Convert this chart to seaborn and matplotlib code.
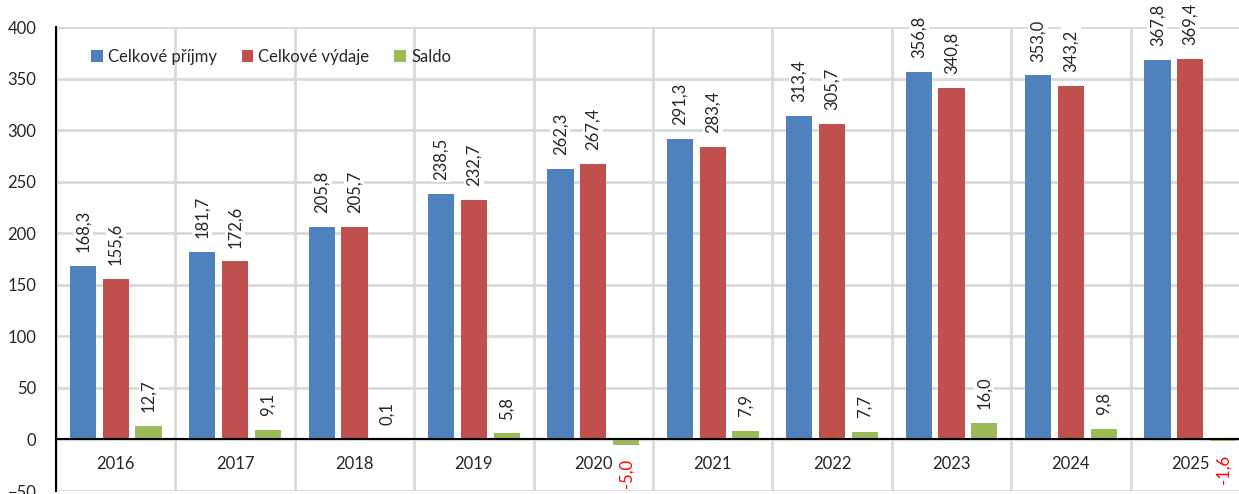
import pandas as pd
import matplotlib
matplotlib.use("Agg")
import matplotlib.pyplot as plt
import seaborn as sns

# ----- Dati -----
roky = ["2016", "2017", "2018", "2019", "2020", "2021", "2022", "2023", "2024", "2025"]
prijmy = [168.3, 181.7, 205.8, 238.5, 262.3, 291.3, 313.4, 356.8, 353.0, 367.8]
vydaje = [155.6, 172.6, 205.7, 232.7, 267.4, 283.4, 305.7, 340.8, 343.2, 369.4]
saldo = [12.7, 9.1, 0.1, 5.8, -5.0, 7.9, 7.7, 16.0, 9.8, -1.6]
serie = ["Celkové příjmy", "Celkové výdaje", "Saldo"]
barvy = ["#4F81BD", "#C0504D", "#9BBB59"]

df = pd.DataFrame({
    "rok": roky * 3,
    "hodnota": prijmy + vydaje + saldo,
    "serie": [s for s in serie for _ in roky],
})

sns.set_style("white")
plt.rcParams["font.family"] = ["Lato", "DejaVu Sans"]
plt.rcParams["font.size"] = 12

fig = plt.figure(figsize=(12.39, 4.94), dpi=100)
ax = fig.add_axes([56 / 1239, 3 / 494, 1194 / 1239, 464 / 494])

sns.barplot(data=df, x="rok", y="hodnota", hue="serie", hue_order=serie,
            palette=barvy, width=0.825, gap=0.2, ax=ax, saturation=1,
            edgecolor="none", errorbar=None)

ax.set_xlim(-0.5, len(roky) - 0.5)
ax.set_ylim(-50, 400)
ax.set_yticks(range(-50, 401, 50))
ax.set_xlabel("")
ax.set_ylabel("")

# mrizka
ax.set_xticks([i - 0.5 for i in range(len(roky) + 1)], minor=True)
ax.set_xticks([])
ax.grid(axis="y", color="#D9D9D9", lw=2)
ax.grid(axis="x", which="minor", color="#D9D9D9", lw=2)
ax.set_axisbelow(True)
ax.tick_params(axis="x", which="both", length=0)
ax.tick_params(axis="y", length=0, labelsize=12, colors="#262626", pad=14)
for s in ["top", "right", "bottom"]:
    ax.spines[s].set_visible(False)
ax.spines["left"].set_color("black")
ax.spines["left"].set_linewidth(1.5)
ax.axhline(0, color="black", lw=1.5, zorder=3)

# popisky roku uvnitr grafu
for i, r in enumerate(roky):
    ax.text(i, -24, r, ha="center", va="center", fontsize=12, color="#262626")

# popisky hodnot
for cont in ax.containers:
    for bar in cont:
        v = bar.get_height()
        x = bar.get_x() + bar.get_width() / 2
        txt = f"{v:.1f}".replace(".", ",")
        if v >= 0:
            ax.annotate(txt, (x, v), xytext=(0, 10), textcoords="offset points",
                        rotation=90, ha="center", va="bottom", color="#262626",
                        fontsize=12,
                        bbox=dict(facecolor="white", edgecolor="none", pad=1.5))
        else:
            ax.annotate(txt, (x, v), xytext=(0, -10), textcoords="offset points",
                        rotation=90, ha="center", va="top", color="red",
                        fontsize=12,
                        bbox=dict(facecolor="white", edgecolor="none", pad=1.5))

ax.legend(loc="upper left", bbox_to_anchor=(0.0167, 0.985), ncol=3, frameon=False,
          handlelength=0.7, handleheight=0.7, handletextpad=0.3, columnspacing=1.5,
          fontsize=12)

fig.savefig("out.png", dpi=100)
